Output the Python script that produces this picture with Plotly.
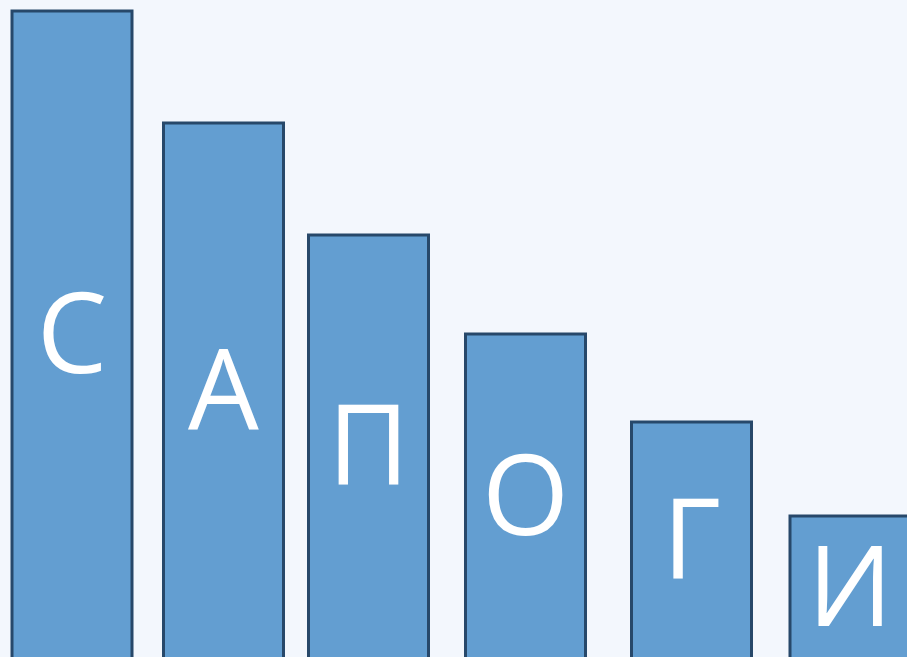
import plotly.graph_objects as go

letters = ["С", "А", "П", "О", "Г", "И"]
positions = [72, 223.5, 368.5, 525.5, 691.5, 850]
heights = [648, 536, 424, 325, 237, 143]

fig = go.Figure()
fig.add_trace(go.Bar(
    x=positions, y=heights, width=120,
    marker=dict(color="#639ed1", line=dict(color="#27486a", width=3)),
    hoverinfo="skip",
))
fig.add_trace(go.Scatter(
    x=positions, y=[(h + 2) / 2 - 11 for h in heights],
    mode="text", text=letters, textposition="middle center",
    textfont=dict(family="Open Sans", size=112, color="white"),
    hoverinfo="skip", cliponaxis=False,
))
fig.update_layout(
    width=907, height=657,
    margin=dict(l=0, r=0, t=0, b=0),
    paper_bgcolor="#f3f7fd", plot_bgcolor="#f3f7fd",
    showlegend=False,
    xaxis=dict(range=[0, 907], visible=False, fixedrange=True),
    yaxis=dict(range=[2, 659], visible=False, fixedrange=True),
)
fig.write_html(
    "out.html",
    config={"displayModeBar": False},
    post_script="document.body.style.margin='0';document.body.style.background='#f3f7fd';",
)
